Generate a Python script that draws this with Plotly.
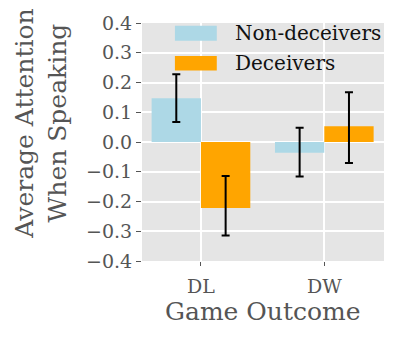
import plotly.graph_objects as go

# データ
outcomes = ["DL", "DW"]
non_deceivers = [0.147, -0.036]
non_err_plus = [0.081, 0.084]
non_err_minus = [0.080, 0.080]
deceivers = [-0.222, 0.053]
dec_err_plus = [0.108, 0.114]
dec_err_minus = [0.092, 0.124]
y_ticks = [-0.4, -0.3, -0.2, -0.1, 0.0, 0.1, 0.2, 0.3, 0.4]

BLUE = "#ADD8E6"
ORANGE = "#FFA500"
FONT = "'DejaVu Serif', serif"
GRAY = "#555555"

pos = list(range(len(outcomes)))

fig = go.Figure()
fig.add_trace(go.Bar(
    x=[p - 0.2 for p in pos], y=non_deceivers, width=0.4,
    marker=dict(color=BLUE, line=dict(width=0)),
    error_y=dict(type="data", array=non_err_plus, arrayminus=non_err_minus,
                 color="black", thickness=2, width=4),
    name="Non-deceivers", showlegend=False
))
fig.add_trace(go.Bar(
    x=[p + 0.2 for p in pos], y=deceivers, width=0.4,
    marker=dict(color=ORANGE, line=dict(width=0)),
    error_y=dict(type="data", array=dec_err_plus, arrayminus=dec_err_minus,
                 color="black", thickness=2, width=4),
    name="Deceivers", showlegend=False
))

# 凡例 (手描き: matplotlib風の横長パッチ)
legend_items = [("Non-deceivers", BLUE, 0.988, 0.925), ("Deceivers", ORANGE, 0.861, 0.800)]
for label, color, y1, y0 in legend_items:
    fig.add_shape(type="rect", xref="paper", yref="paper",
                  x0=0.136, x1=0.309, y0=y0, y1=y1,
                  fillcolor=color, line=dict(width=0), layer="above")
    fig.add_annotation(xref="paper", yref="paper", x=0.375, y=(y0 + y1) / 2,
                       text=label, showarrow=False, xanchor="left", yanchor="middle",
                       font=dict(family=FONT, size=20, color="#111111"))

# 軸タイトル
fig.add_annotation(xref="paper", yref="paper", x=-0.415, y=0.575,
                   text="Average Attention<br>When Speaking", textangle=-90,
                   showarrow=False, xanchor="center", yanchor="middle",
                   font=dict(family=FONT, size=25, color=GRAY))
fig.add_annotation(xref="paper", yref="paper", x=0.5, y=-0.2125,
                   text="Game Outcome", showarrow=False,
                   xanchor="center", yanchor="middle",
                   font=dict(family=FONT, size=25, color=GRAY))

fig.update_layout(
    width=407, height=341,
    margin=dict(l=142, r=23, t=21, b=80),
    paper_bgcolor="white",
    plot_bgcolor="#E5E5E5",
    barmode="overlay",
    showlegend=False,
    font=dict(family=FONT, color=GRAY),
    xaxis=dict(
        range=[-0.478, 1.484], tickvals=pos, ticktext=outcomes,
        showgrid=True, gridcolor="white", gridwidth=1.5, zeroline=False,
        ticks="outside", ticklen=4, tickcolor=GRAY, ticklabelstandoff=4,
        tickfont=dict(family=FONT, size=19, color=GRAY),
    ),
    yaxis=dict(
        range=[-0.4, 0.4], tickvals=y_ticks,
        ticktext=[f"{v:.1f}".replace("-", "\u2212") for v in y_ticks],
        showgrid=True, gridcolor="white", gridwidth=1.5, zeroline=False,
        ticks="outside", ticklen=5, tickcolor=GRAY,
        tickfont=dict(family=FONT, size=19, color=GRAY),
    ),
)

# ページ既定の余白を消す
fig.write_html("out.html", config={"displayModeBar": False},
               post_script="document.body.style.margin='0';")
